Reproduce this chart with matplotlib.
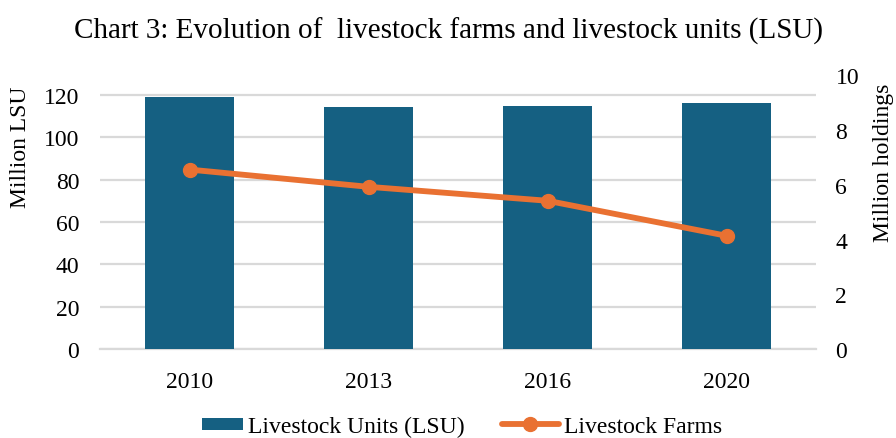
import matplotlib
matplotlib.use("Agg")
import matplotlib.pyplot as plt
from matplotlib.patches import Rectangle
from matplotlib.legend_handler import HandlerPatch

years = ["2010", "2013", "2016", "2020"]
lsu_million = [119.0, 114.3, 115.1, 116.4]
farms_million = [6.56, 5.93, 5.42, 4.14]
left_ticks = [0, 20, 40, 60, 80, 100, 120]
right_ticks = [0, 2, 4, 6, 8, 10]

BAR_COLOR = "#156082"
LINE_COLOR = "#E97132"
GRID_COLOR = "#D9D9D9"
FS = 17

plt.rcParams["font.family"] = ["Liberation Serif", "DejaVu Serif"]

W, H, DPI = 896, 439, 100
fig = plt.figure(figsize=(W / DPI, H / DPI), dpi=DPI)
fig.patch.set_facecolor("white")

left, right = 100 / W, 816 / W
bottom, top = 1 - 350 / H, 1 - 76.5 / H
ax = fig.add_axes([left, bottom, right - left, top - bottom])
ax2 = ax.twinx()

x = list(range(len(years)))
bars = ax.bar(x, lsu_million, width=0.5, color=BAR_COLOR, zorder=3)
line, = ax2.plot(x, farms_million, color=LINE_COLOR, lw=4.2, marker="o",
                 markersize=10, solid_capstyle="round", zorder=4)

ax.set_xlim(-0.5, len(years) - 0.5)
ax.set_ylim(0, 129.3)
ax2.set_ylim(0, 10)
ax.set_yticks(left_ticks)
ax2.set_yticks(right_ticks)
ax.set_xticks(x)
ax.set_xticklabels(years)

ax.yaxis.grid(True, color=GRID_COLOR, lw=1.6, zorder=0)
ax.set_axisbelow(True)
for a in (ax, ax2):
    for s in a.spines.values():
        s.set_visible(False)
ax.spines["bottom"].set_visible(True)
ax.spines["bottom"].set_color(GRID_COLOR)
ax.spines["bottom"].set_linewidth(1.6)

ax.tick_params(axis="both", length=0, labelsize=FS, colors="black")
ax.tick_params(axis="y", pad=15)
ax.tick_params(axis="x", pad=16)
ax2.tick_params(axis="y", length=0, labelsize=FS, pad=14)

fig.text(20 / W, 1 - 147 / H, "Million LSU", rotation=90, ha="center",
         va="center", fontsize=FS)
fig.text(883 / W, 1 - 163 / H, "Million holdings", rotation=90, ha="center",
         va="center", fontsize=FS)

fig.text(448 / W, 1 - 31 / H,
         "Chart 3: Evolution of  livestock farms and livestock units (LSU)",
         ha="center", va="center", fontsize=21)


def short_patch(legend, orig_handle, xdescent, ydescent, width, height, fontsize):
    # legend swatch for the bars: narrower than the line handle, right aligned
    w = width * 0.72
    h = height * 0.78
    return Rectangle((width - w - xdescent, -ydescent + (height - h) / 2), w, h)


bar_handle = bars.patches[0]
fig.legend(handles=[bar_handle, line],
           labels=["Livestock Units (LSU)", "Livestock Farms"],
           loc="center", ncol=2,
           bbox_to_anchor=(454 / W, 1 - 427.5 / H), frameon=False,
           fontsize=FS, handlelength=2.4, handletextpad=0.2,
           columnspacing=1.6, borderpad=0.2,
           handler_map={bar_handle: HandlerPatch(patch_func=short_patch)})

fig.savefig("out.png", dpi=DPI, facecolor="white")
